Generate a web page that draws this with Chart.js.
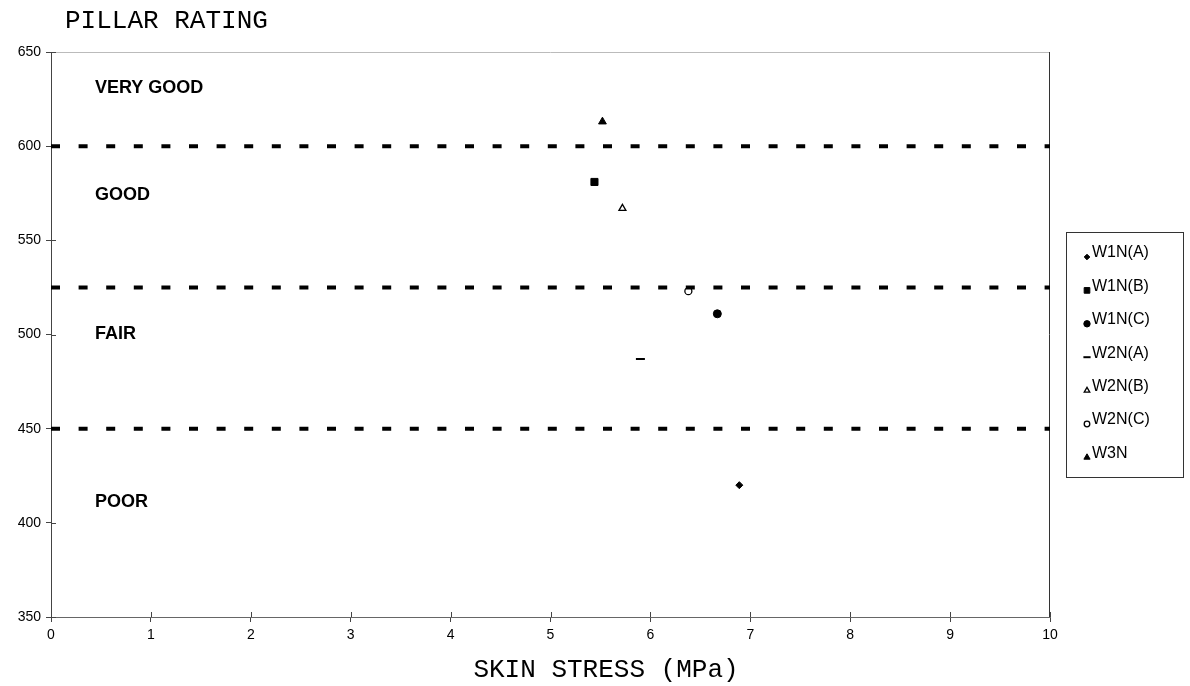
<!DOCTYPE html>
<html>
<head>
<meta charset="utf-8">
<script src="https://cdn.jsdelivr.net/npm/chart.js@4.4.1/dist/chart.umd.min.js"></script>
<style>
  html, body { margin: 0; padding: 0; background: #fff; }
  #wrap { width: 1190px; height: 686px; }
</style>
</head>
<body>
<div id="wrap"><canvas id="c" width="1190" height="686"></canvas></div>
<script>
// Pillar test results: skin stress (MPa) against pillar rating
const seriesNames  = ['W1N(A)', 'W1N(B)', 'W1N(C)', 'W2N(A)', 'W2N(B)', 'W2N(C)', 'W3N'];
const skinStress   = [6.89, 5.44, 6.67, 5.90, 5.72, 6.38, 5.52];
const pillarRating = [420, 581, 511, 487, 567, 523, 613];

// Rating class boundaries and class names
const classBoundaries = [600, 525, 450];
const ratingClasses   = ['VERY GOOD', 'GOOD', 'FAIR', 'POOR'];
const classLabelAt    = [631, 574, 500, 411];   // rating value where each class name sits
const classLabelX     = 0.44;                   // skin stress where class names start

// Axis ticks
const xTicks = [0, 1, 2, 3, 4, 5, 6, 7, 8, 9, 10];
const yTicks = [350, 400, 450, 500, 550, 600, 650];

// Marker style for each series
const markerStyle = [
  { pointStyle: 'rectRot',  radius: 3.5, fill: '#000' },
  { pointStyle: 'rect',     radius: 5,   fill: '#000' },
  { pointStyle: 'circle',   radius: 4,   fill: '#000' },
  { pointStyle: 'line',     radius: 4.5, fill: '#000', width: 2 },
  { pointStyle: 'triangle', radius: 4,   fill: '#fff', width: 1.3 },
  { pointStyle: 'circle',   radius: 3.5, fill: '#fff', width: 1.3 },
  { pointStyle: 'triangle', radius: 4.5, fill: '#000' }
];

const pointSets = seriesNames.map((name, i) => ({
  type: 'scatter',
  label: name,
  data: [{ x: skinStress[i], y: pillarRating[i] }],
  pointStyle: markerStyle[i].pointStyle,
  pointRadius: markerStyle[i].radius,
  pointHoverRadius: markerStyle[i].radius,
  backgroundColor: markerStyle[i].fill,
  borderColor: '#000',
  pointBorderWidth: markerStyle[i].width || 1
}));

const boundarySets = classBoundaries.map(v => ({
  type: 'line',
  label: 'boundary ' + v,
  data: [{ x: xTicks[0], y: v }, { x: xTicks[xTicks.length - 1], y: v }],
  borderColor: '#000',
  borderWidth: 4,
  borderDash: [9, 18.6],
  borderCapStyle: 'butt',
  pointRadius: 0,
  fill: false
}));

const SANS = '"Liberation Sans", Arial, sans-serif';
const MONO = '"Liberation Mono", "Courier New", monospace';

// Frame, inner tick marks, class names, titles and the boxed legend
const decorations = {
  id: 'decorations',
  beforeDatasetsDraw(chart) {
    const { ctx, chartArea: a, scales: { x, y } } = chart;
    ctx.save();
    ctx.lineWidth = 1;
    // top edge (faint) and right edge
    ctx.strokeStyle = '#bbb';
    ctx.beginPath(); ctx.moveTo(a.left, a.top + 0.5); ctx.lineTo(a.right, a.top + 0.5); ctx.stroke();
    ctx.strokeStyle = '#333';
    ctx.beginPath(); ctx.moveTo(a.right - 0.5, a.top); ctx.lineTo(a.right - 0.5, a.bottom); ctx.stroke();
    // inner halves of the cross-shaped tick marks
    ctx.strokeStyle = '#444';
    ctx.beginPath();
    xTicks.forEach(v => {
      const px = Math.round(x.getPixelForValue(v)) + 0.5;
      ctx.moveTo(px, a.bottom); ctx.lineTo(px, a.bottom - 5);
    });
    yTicks.forEach(v => {
      const py = Math.round(y.getPixelForValue(v)) + 0.5;
      ctx.moveTo(a.left, py); ctx.lineTo(a.left + 5, py);
    });
    ctx.stroke();
    // rating class names
    ctx.fillStyle = '#000';
    ctx.font = 'bold 18px ' + SANS;
    ctx.textBaseline = 'middle';
    ctx.textAlign = 'left';
    ratingClasses.forEach((t, i) => {
      ctx.fillText(t, x.getPixelForValue(classLabelX), y.getPixelForValue(classLabelAt[i]));
    });
    ctx.restore();
  },
  afterDraw(chart) {
    const { ctx } = chart;
    ctx.save();
    ctx.fillStyle = '#000';
    ctx.font = '26px ' + MONO;
    ctx.textBaseline = 'alphabetic';
    ctx.textAlign = 'left';
    ctx.fillText('PILLAR RATING', 65, 28);
    ctx.textAlign = 'center';
    ctx.fillText('SKIN STRESS (MPa)', 606, 677);

    // legend box
    const bx = 1066, by = 232, bw = 117, bh = 245;
    ctx.strokeStyle = '#333';
    ctx.lineWidth = 1;
    ctx.strokeRect(bx + 0.5, by + 0.5, bw, bh);
    ctx.font = '16px ' + SANS;
    ctx.textAlign = 'left';
    ctx.textBaseline = 'middle';
    const sets = chart.data.datasets.filter(d => d.type === 'scatter');
    sets.forEach((d, i) => {
      const cy = by + 21 + i * 33.4;
      const cx = bx + 21;
      const opts = {
        pointStyle: d.pointStyle,
        radius: Math.max(2.5, d.pointRadius * 0.8),
        borderWidth: d.pointBorderWidth,
        rotation: 0
      };
      ctx.fillStyle = d.backgroundColor;
      ctx.strokeStyle = '#000';
      ctx.lineWidth = d.pointBorderWidth;
      Chart.helpers.drawPoint(ctx, opts, cx, cy + 4);
      ctx.fillStyle = '#000';
      ctx.fillText(d.label, cx + 5, cy);
    });
    ctx.restore();
  }
};

new Chart(document.getElementById('c'), {
  data: { datasets: [...boundarySets, ...pointSets] },
  options: {
    responsive: false,
    animation: false,
    devicePixelRatio: 1,
    layout: { padding: { top: 52, right: 140, left: 0, bottom: 0 } },
    plugins: { legend: { display: false }, tooltip: { enabled: false }, title: { display: false } },
    scales: {
      x: {
        type: 'linear', min: 0, max: 10,
        afterBuildTicks: s => { s.ticks = xTicks.map(v => ({ value: v })); },
        afterFit: s => { s.height = 69; },
        ticks: { color: '#000', font: { family: SANS, size: 14 }, padding: 5 },
        grid: { drawOnChartArea: false, drawTicks: true, tickLength: 5, color: '#444' },
        border: { color: '#666', width: 1 }
      },
      y: {
        type: 'linear', min: 350, max: 650,
        afterBuildTicks: s => { s.ticks = yTicks.map(v => ({ value: v })); },
        afterFit: s => { s.width = 51; },
        ticks: { color: '#000', font: { family: SANS, size: 14 }, padding: 5 },
        grid: { drawOnChartArea: false, drawTicks: true, tickLength: 5, color: '#444' },
        border: { color: '#444', width: 1 }
      }
    }
  },
  plugins: [decorations]
});
</script>
</body>
</html>
